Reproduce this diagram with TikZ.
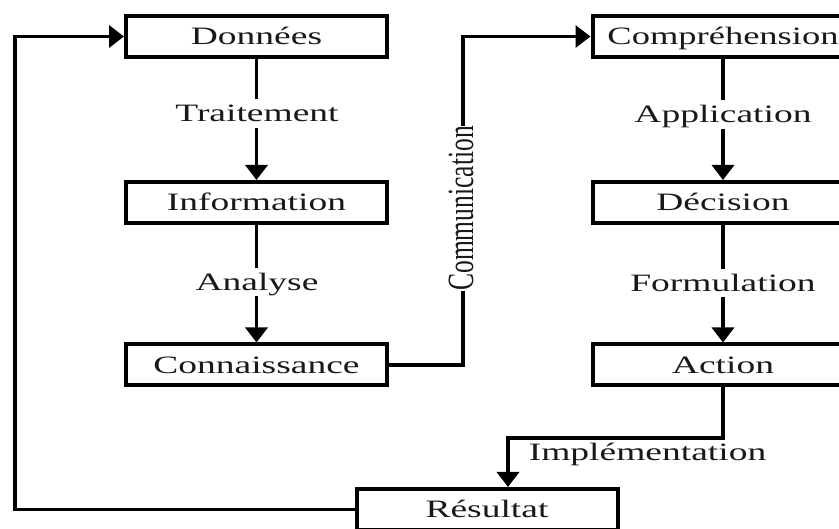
\documentclass[tikz,border=0pt]{standalone}
\usepackage{fontspec}
\setmainfont{Liberation Serif}
\usetikzlibrary{arrows.meta}
\newcommand{\wide}[1]{\scalebox{1.5}[1]{#1}}
\begin{document}
\begin{tikzpicture}[x=1pt,y=-1pt,
  txt/.style={text=black!90,font=\fontsize{25}{28}\selectfont,text height=16.5pt,text depth=0pt},
  box/.style={txt,draw=black,line width=4pt,minimum width=261pt,minimum height=41pt,inner sep=0pt},
  conn/.style={line width=3.5pt,-{Triangle[width=22pt,length=15pt]}},
  lbl/.style={txt,fill=white,inner xsep=2pt,inner ysep=6pt}]
\useasboundingbox (0,0) rectangle (839,529);
\clip (0,0) rectangle (839,529);
\fill[white] (0,0) rectangle (839,529);
% left column
\node[box] (don) at (256.5,36.5) {\wide{Données}};
\node[box] (inf) at (256.5,202.5) {\wide{Information}};
\node[box] (con) at (256.5,365) {\wide{Connaissance}};
% right column
\node[box] (com) at (723,36.5) {\scalebox{1.46}[1]{Compréhension}\hspace{12pt}};
\node[box] (dec) at (723,202.5) {\wide{Décision}};
\node[box] (act) at (723,365) {\wide{Action}};
% result
\node[box] (res) at (487,509.5) {\wide{Résultat}};
% vertical arrows
\draw[conn] (don) -- (inf);
\draw[conn] (inf) -- (con);
\draw[conn] (com) -- (dec);
\draw[conn] (dec) -- (act);
\node[lbl] (l1) at (257,113.5) {\wide{Traitement}};
\node[lbl] (l2) at (257,282) {\wide{Analyse}};
\node[lbl] (l3) at (723,114.5) {\wide{Application}};
\node[lbl] (l4) at (723,283) {\wide{Formulation}};
% communication
\coordinate (c1) at (463,365);
\coordinate (c2) at (463,36.5);
\draw[conn] (con.east) -- (c1) -- (c2) -- (com.west);
\node[fill=white,text=black!90,font=\fontsize{37}{40}\selectfont,rotate=90,inner sep=0pt] (clab) at (461,208.5) {\scalebox{0.69}[1]{Communication}};
% implementation
\coordinate (i1) at (723,438);
\coordinate (i2) at (508,438);
\draw[conn] (act.south) -- (i1) -- (i2) -- (i2 |- res.north);
\node[txt,inner sep=0pt] (ilab) at (647.5,452.5) {\wide{Implémentation}};
% feedback
\coordinate (f1) at (15,509.5);
\coordinate (f2) at (15,36.5);
\draw[conn] (res.west) -- (f1) -- (f2) -- (don.west);
\end{tikzpicture}
\end{document}
